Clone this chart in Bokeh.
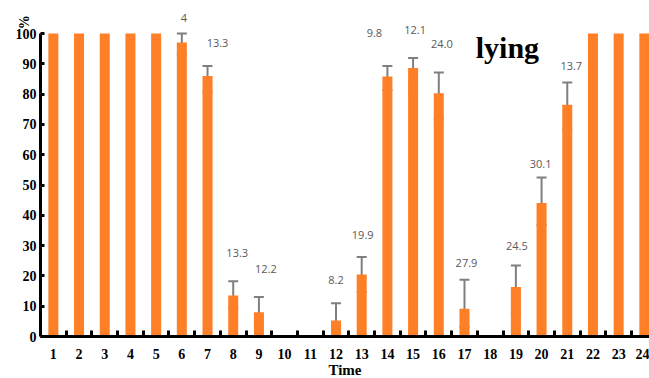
from bokeh.plotting import figure
from bokeh.models import (ColumnDataSource, FixedTicker, Label, Range1d,
                          Whisker, TeeHead, LinearAxis)
from bokeh.core.properties import value
from bokeh.embed import file_html
from bokeh.resources import INLINE
import math

# ---- data ----
times = list(range(1, 25))
lying_pct = [100, 100, 100, 100, 100, 97.0, 86.0, 13.5, 8.0, 0, 0, 5.3,
             20.5, 85.8, 88.6, 80.3, 9.2, 0, 16.3, 44.1, 76.5, 100, 100, 100]
err_low = [None, None, None, None, None, 93.1, 80.5, 9.6, 4.2, None, None, 1.1,
           14.7, 81.4, 82.1, 71.5, 3.1, None, 7.8, 36.9, 68.2, None, None, None]
err_high = [None, None, None, None, None, 100.0, 89.3, 18.2, 13.0, None, None, 11.0,
            26.2, 89.3, 91.9, 87.1, 18.7, None, 23.4, 52.5, 83.8, None, None, None]
cv_labels = [None, None, None, None, None, "4", "13.3", "13.3", "12.2", None, None, "8.2",
             "19.9", "9.8", "12.1", "24.0", "27.9", None, "24.5", "30.1", "13.7", None, None, None]
y_ticks = list(range(0, 101, 10))

# label placement (screen px offsets from the top of the error bar)
label_dx = [0, 0, 0, 0, 0, 2, 10, 4, 7, 0, 0, 0, 1, -13, 2, 3, 2, 0, 1, -1, 4, 0, 0, 0]
label_dy = [0, 0, 0, 0, 0, -16, -23, -28, -28, 0, 0, -23, -22, -33, -28, -29, -17, 0, -20, -13, -17, 0, 0, 0]

ORANGE = "#FF7F27"
GRAY = "#7F7F7F"
SERIF = "Liberation Serif"

p = figure(frame_width=609, frame_height=336,
           x_range=Range1d(0.5, 24.2), y_range=Range1d(0, 110.9),
           output_backend="svg", toolbar_location=None,
           min_border_left=40, min_border_right=0, min_border_top=0, min_border_bottom=0)
p.outline_line_color = None
p.xgrid.visible = False
p.ygrid.visible = False
p.background_fill_color = "white"

p.vbar(x=times, top=lying_pct, width=0.39, fill_color=ORANGE, line_color=None)

idx = [i for i in range(len(times)) if err_low[i] is not None]
esrc = ColumnDataSource(dict(
    x=[times[i] for i in idx],
    lo=[err_low[i] for i in idx],
    hi=[err_high[i] for i in idx],
    txt=[cv_labels[i] for i in idx],
    dx=[label_dx[i] for i in idx],
    dy=[label_dy[i] for i in idx],
))
w = Whisker(base="x", lower="lo", upper="hi", source=esrc,
            line_color=GRAY, line_width=2,
            upper_head=TeeHead(size=10, line_color=GRAY, line_width=2),
            lower_head=TeeHead(size=10, line_color=GRAY, line_width=2))
p.add_layout(w)

p.text(x="x", y="hi", text="txt", x_offset="dx", y_offset="dy", source=esrc,
       text_font=value("Open Sans"), text_font_size="11px", text_color="#595959",
       text_align="center", text_baseline="middle")

# axes
xa = p.xaxis[0]
xa.ticker = FixedTicker(ticks=times, minor_ticks=[t + 0.5 for t in times[:-1]])
xa.major_tick_in = 0
xa.major_tick_out = 0
xa.minor_tick_in = 6
xa.minor_tick_out = 0
xa.minor_tick_line_width = 3
xa.minor_tick_line_color = "black"
xa.axis_line_width = 3
xa.axis_line_color = "black"
xa.major_label_text_font = SERIF
xa.major_label_text_font_style = "bold"
xa.major_label_text_font_size = "14px"
xa.major_label_text_color = "black"
xa.major_label_standoff = 12
xa.axis_label = "Time"
xa.axis_label_standoff = 0
xa.axis_label_text_font = SERIF
xa.axis_label_text_font_style = "bold"
xa.axis_label_text_font_size = "15px"
xa.axis_label_text_color = "black"

ya = p.yaxis[0]
ya.ticker = FixedTicker(ticks=y_ticks, minor_ticks=[])
ya.bounds = (0, 100)
ya.major_tick_in = 4
ya.major_tick_out = 0
ya.major_tick_line_width = 3
ya.minor_tick_in = 0
ya.minor_tick_out = 0
ya.axis_line_width = 3
ya.axis_line_color = "black"
ya.major_label_text_font = SERIF
ya.major_label_text_font_style = "bold"
ya.major_label_text_font_size = "14px"
ya.major_label_text_color = "black"
ya.major_label_standoff = 4

# unit "%" shown as a rotated label near the top of the y axis
unit_axis = LinearAxis(ticker=FixedTicker(ticks=[106], minor_ticks=[]),
                       major_label_overrides={106: "%"},
                       major_label_orientation=math.pi / 2,
                       axis_line_color=None, major_tick_line_color=None,
                       minor_tick_line_color=None,
                       major_tick_in=0, major_tick_out=0,
                       minor_tick_in=0, minor_tick_out=0,
                       major_label_standoff=-12,
                       major_label_text_font=SERIF,
                       major_label_text_font_style="bold",
                       major_label_text_font_size="14px",
                       major_label_text_color="black")
p.add_layout(unit_axis, "left")

p.add_layout(Label(x=18.67, y=95.4, text="lying",
                   text_font=SERIF, text_font_style="bold", text_font_size="30px",
                   text_align="center", text_baseline="alphabetic", text_color="black"))

open("out.html", "w").write(file_html(p, INLINE))
